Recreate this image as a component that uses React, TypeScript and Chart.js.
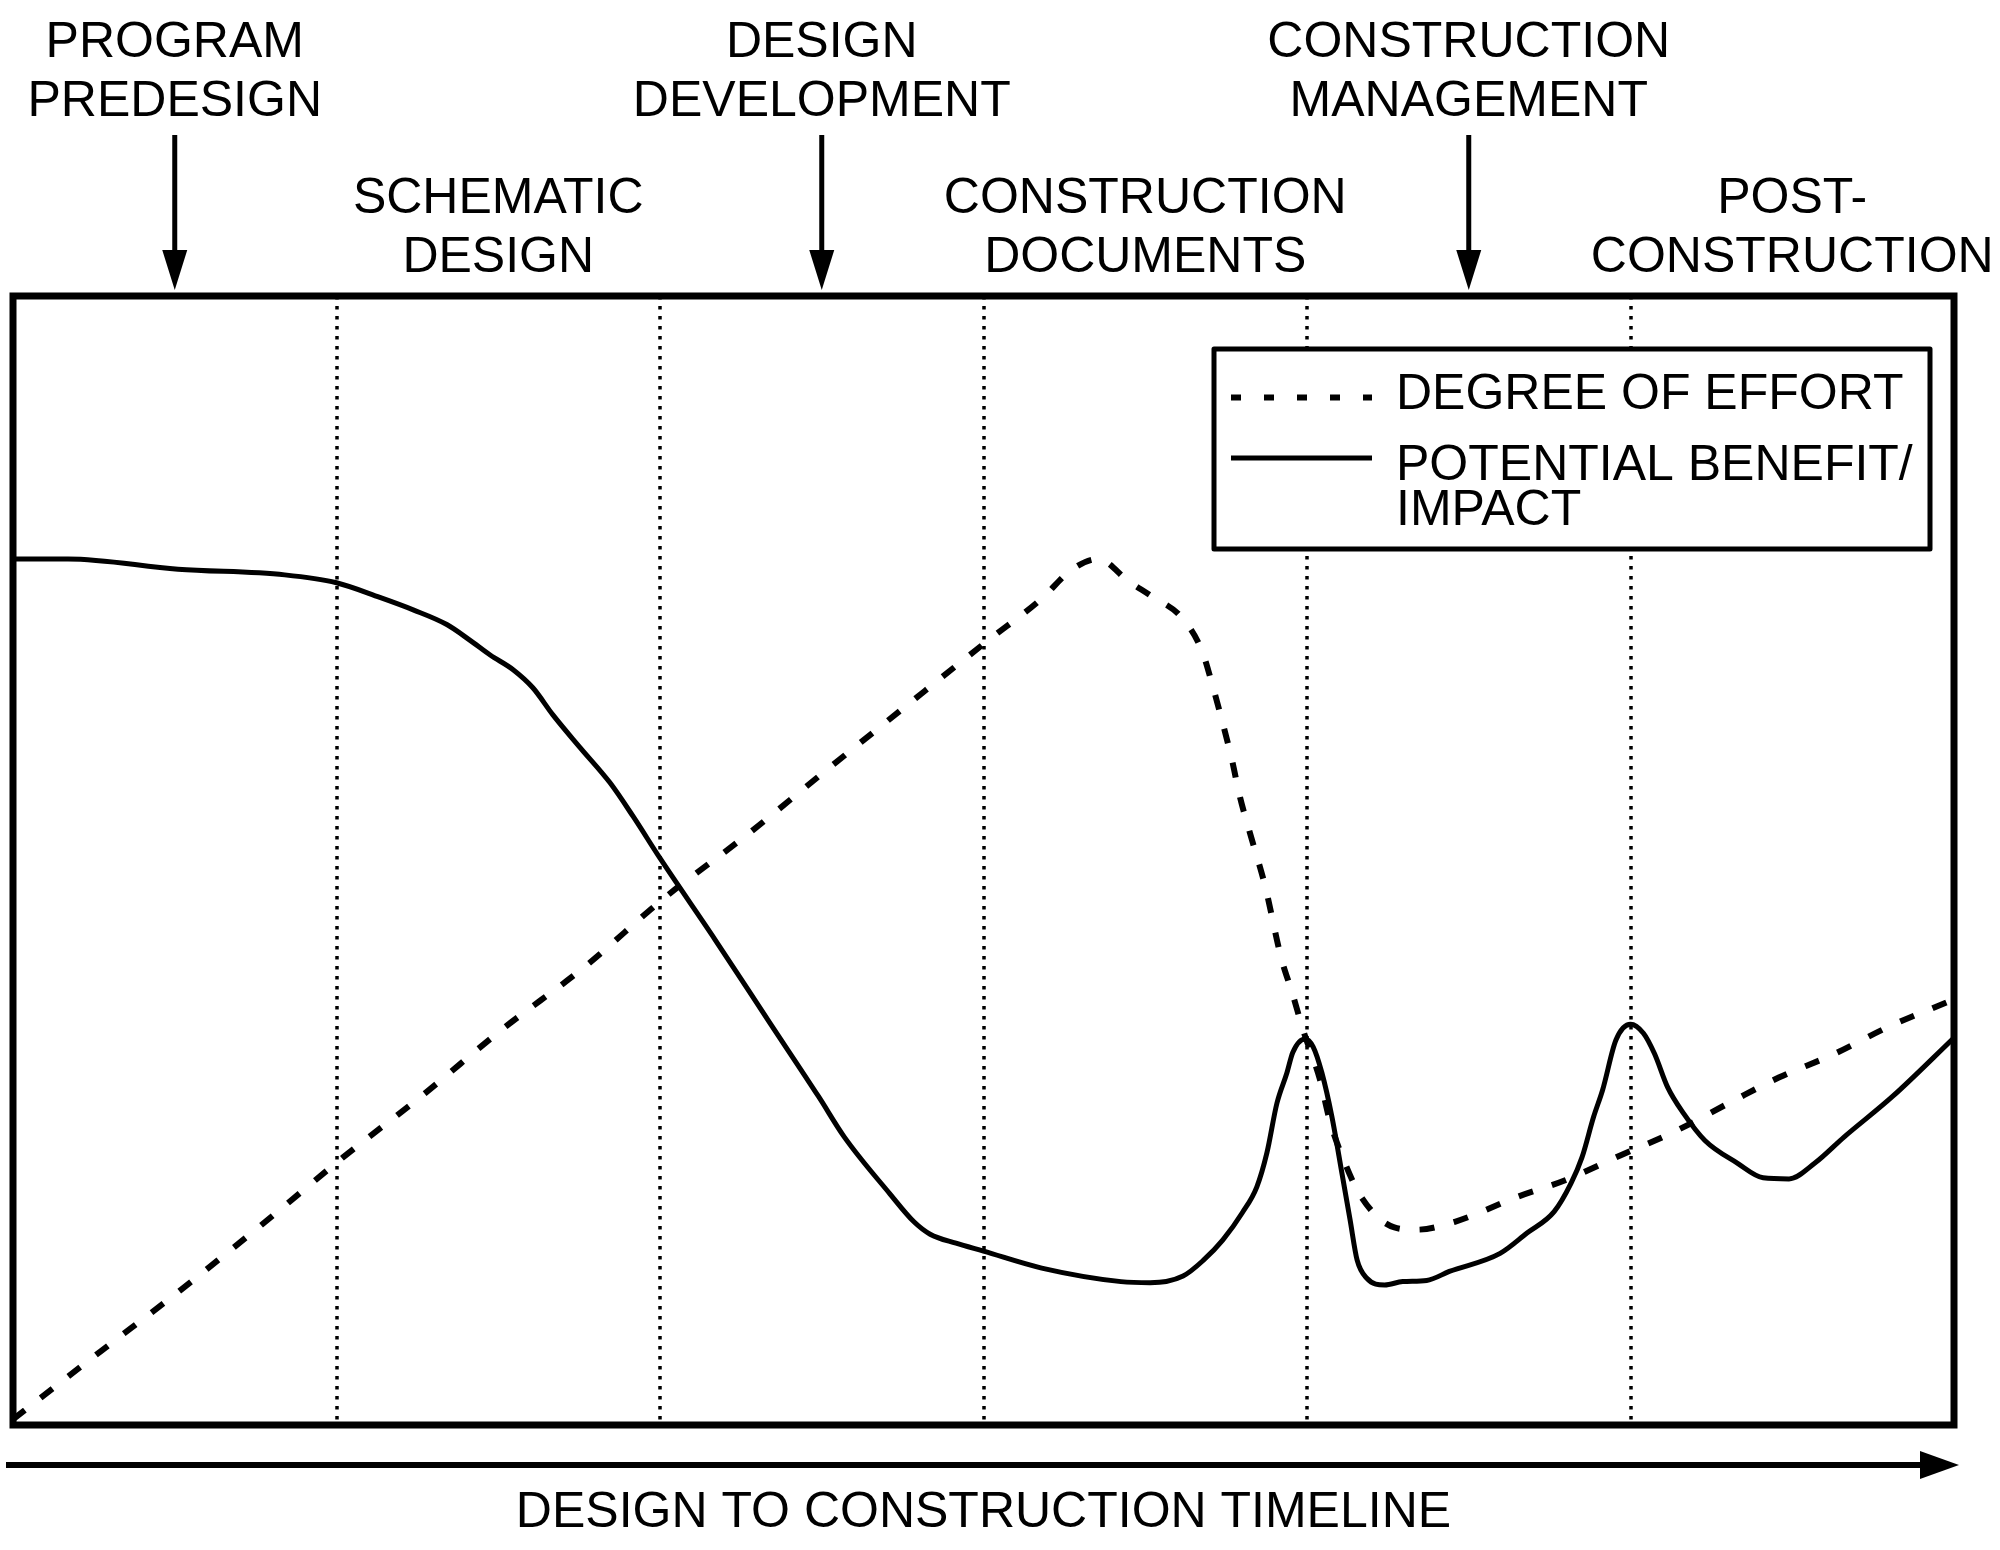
import React, { useEffect, useRef } from 'react';
import { Chart, registerables } from 'chart.js';

Chart.register(...registerables);

// ---- data ----
const phaseEdges = [0, 1, 2, 3, 4, 5, 6];
const phaseLabels: string[][] = [
  ['PROGRAM', 'PREDESIGN'],
  ['SCHEMATIC', 'DESIGN'],
  ['DESIGN', 'DEVELOPMENT'],
  ['CONSTRUCTION', 'DOCUMENTS'],
  ['CONSTRUCTION', 'MANAGEMENT'],
  ['POST-', 'CONSTRUCTION'],
];
const arrowPhases = [0, 2, 4];
const axisTitle = 'DESIGN TO CONSTRUCTION TIMELINE';

const seriesNames = ['DEGREE OF EFFORT', 'POTENTIAL BENEFIT/IMPACT'];
const legendLines: string[][] = [['DEGREE OF EFFORT'], ['POTENTIAL BENEFIT/', 'IMPACT']];

const effortX = [0, 0.27, 0.52, 0.78, 1.02, 1.27, 1.51, 1.768, 2.01, 2.27, 2.51, 2.77, 3.01, 3.18, 3.27, 3.354, 3.45, 3.52, 3.61, 3.675, 3.709, 3.74, 3.768, 3.793, 3.824, 3.87, 3.92, 3.954, 3.99, 4.04, 4.07, 4.11, 4.17, 4.27, 4.34, 4.457, 4.65, 4.8, 4.97, 5.13, 5.31, 5.46, 5.625, 5.8, 6.0];
const effortY = [0.5, 6.5, 12.0, 18.0, 23.7, 29.3, 35.0, 40.6, 46.6, 52.3, 57.9, 63.9, 69.4, 73.2, 75.7, 76.7, 74.7, 73.4, 71.6, 68.6, 65.4, 62.1, 58.9, 55.6, 52.4, 47.8, 41.4, 38.3, 34.8, 30.6, 27.0, 23.7, 20.1, 17.5, 17.3, 18.0, 20.2, 21.7, 23.9, 25.9, 28.6, 30.8, 32.8, 35.3, 37.7];

const benefitX = [0, 0.17, 0.51, 0.84, 1.0, 1.134, 1.237, 1.341, 1.413, 1.475, 1.546, 1.607, 1.669, 1.753, 1.845, 1.917, 2.0, 2.17, 2.34, 2.49, 2.57, 2.71, 2.785, 2.835, 2.915, 3.0, 3.18, 3.425, 3.515, 3.617, 3.68, 3.74, 3.8, 3.845, 3.876, 3.907, 3.938, 3.956, 3.994, 4.019, 4.046, 4.077, 4.108, 4.133, 4.155, 4.185, 4.24, 4.296, 4.37, 4.44, 4.597, 4.68, 4.764, 4.816, 4.85, 4.886, 4.914, 4.955, 5.0, 5.04, 5.074, 5.115, 5.164, 5.23, 5.33, 5.41, 5.49, 5.57, 5.66, 5.81, 6.0];
const benefitY = [76.7, 76.7, 75.8, 75.3, 74.6, 73.3, 72.2, 70.9, 69.5, 68.2, 66.9, 65.3, 62.9, 60.0, 56.9, 53.9, 50.2, 43.0, 35.6, 29.1, 25.5, 20.5, 18.0, 16.9, 16.1, 15.4, 13.9, 12.7, 12.6, 13.2, 14.6, 16.4, 18.8, 21.1, 24.1, 28.5, 31.2, 33.0, 34.2, 33.5, 31.2, 27.3, 22.3, 18.2, 14.6, 13.0, 12.4, 12.7, 12.8, 13.6, 15.2, 17.0, 18.9, 21.4, 23.7, 27.3, 29.7, 34.1, 35.5, 34.7, 32.9, 29.9, 27.6, 25.2, 23.2, 21.9, 21.8, 23.2, 25.5, 29.1, 34.3];

// ---- styles ----
const FONT = '50px "Liberation Sans", Arial, Helvetica, sans-serif';
const INK = '#000000';

const decorPlugin = {
  id: 'decor',
  beforeDatasetsDraw(chart: any) {
    const { ctx, chartArea: a, scales } = chart;
    const x = scales.x;
    ctx.save();
    ctx.strokeStyle = INK;
    ctx.lineWidth = 3.5;
    ctx.setLineDash([3.5, 6.5]);
    for (let i = 1; i < phaseEdges.length - 1; i++) {
      const px = Math.round(x.getPixelForValue(phaseEdges[i]));
      ctx.beginPath();
      ctx.moveTo(px, a.top);
      ctx.lineTo(px, a.bottom);
      ctx.stroke();
    }
    ctx.restore();
  },
  afterDatasetsDraw(chart: any) {
    const { ctx, chartArea: a, scales } = chart;
    const x = scales.x;
    const ds = chart.data.datasets;
    ctx.save();
    ctx.strokeStyle = INK;
    ctx.fillStyle = INK;

    // frame
    ctx.setLineDash([]);
    ctx.lineWidth = 7;
    ctx.lineJoin = 'miter';
    ctx.strokeRect(a.left, a.top, a.right - a.left, a.bottom - a.top);

    // phase labels + arrows
    ctx.font = FONT;
    ctx.textAlign = 'center';
    ctx.textBaseline = 'alphabetic';
    for (let i = 0; i < phaseLabels.length; i++) {
      const cx = x.getPixelForValue(phaseEdges[i] + 0.5);
      const upper = arrowPhases.includes(i);
      const base = upper ? [57, 116] : [213, 272];
      phaseLabels[i].forEach((t, j) => ctx.fillText(t, cx, base[j]));
      if (upper) {
        ctx.lineWidth = 5;
        ctx.beginPath();
        ctx.moveTo(cx, 135);
        ctx.lineTo(cx, 254);
        ctx.stroke();
        ctx.beginPath();
        ctx.moveTo(cx - 12.5, 250);
        ctx.lineTo(cx + 12.5, 250);
        ctx.lineTo(cx, a.top - 6);
        ctx.closePath();
        ctx.fill();
      }
    }

    // bottom timeline arrow
    const ay = 1465;
    ctx.lineWidth = 6;
    ctx.beginPath();
    ctx.moveTo(6, ay);
    ctx.lineTo(1922, ay);
    ctx.stroke();
    ctx.beginPath();
    ctx.moveTo(1920, ay - 14);
    ctx.lineTo(1920, ay + 14);
    ctx.lineTo(1959, ay);
    ctx.closePath();
    ctx.fill();
    ctx.fillText(axisTitle, x.getPixelForValue(3), 1527);

    // legend
    const lx = 1214, ly = 349, lw = 716, lh = 200;
    ctx.fillStyle = '#ffffff';
    ctx.fillRect(lx, ly, lw, lh);
    ctx.fillStyle = INK;
    ctx.lineWidth = 5;
    ctx.lineJoin = 'round';
    ctx.strokeRect(lx, ly, lw, lh);
    const sampleY = [397.5, 458];
    const textBase = [[409], [480, 525]];
    ctx.textAlign = 'left';
    for (let k = 0; k < ds.length; k++) {
      ctx.lineWidth = k === 0 ? 6 : 5;
      ctx.setLineDash(k === 0 ? [10, 23] : []);
      ctx.beginPath();
      ctx.moveTo(1231, sampleY[k]);
      ctx.lineTo(1372, sampleY[k]);
      ctx.stroke();
      ctx.setLineDash([]);
      legendLines[k].forEach((t, j) => ctx.fillText(t, 1396, textBase[k][j]));
    }
    ctx.restore();
  },
};

export default function App() {
  const ref = useRef<HTMLCanvasElement | null>(null);
  useEffect(() => {
    document.body.style.margin = '0';
    const canvas = ref.current;
    if (!canvas) return;
    const chart = new Chart(canvas, {
      type: 'line',
      data: {
        datasets: [
          {
            label: seriesNames[0],
            data: effortX.map((v, i) => ({ x: v, y: effortY[i] })),
            borderColor: INK,
            borderWidth: 6,
            borderDash: [15, 20],
            pointRadius: 0,
            cubicInterpolationMode: 'monotone',
            fill: false,
          },
          {
            label: seriesNames[1],
            data: benefitX.map((v, i) => ({ x: v, y: benefitY[i] })),
            borderColor: INK,
            borderWidth: 5,
            pointRadius: 0,
            cubicInterpolationMode: 'monotone',
            fill: false,
          },
        ],
      },
      options: {
        responsive: false,
        animation: false,
        devicePixelRatio: 1,
        layout: { padding: { left: 13, right: 46, top: 296, bottom: 125 } },
        scales: {
          x: { type: 'linear', min: 0, max: 6, display: false },
          y: { type: 'linear', min: 0, max: 100, display: false },
        },
        plugins: {
          legend: { display: false },
          tooltip: { enabled: false },
        },
      },
      plugins: [decorPlugin],
    } as any);
    return () => chart.destroy();
  }, []);
  return (
    <div style={{ position: 'absolute', left: 0, top: 0, width: 2000, height: 1550, background: '#fff' }}>
      <canvas ref={ref} width={2000} height={1550} />
    </div>
  );
}
